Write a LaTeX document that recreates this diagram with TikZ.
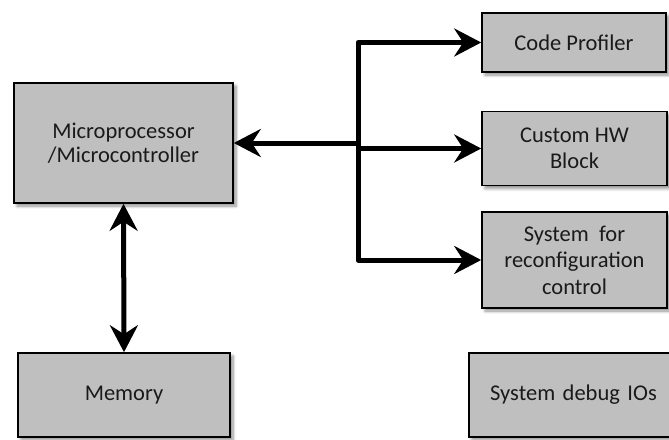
\documentclass[tikz,border=0pt]{standalone}
\usepackage{fontspec}
\setmainfont{Carlito}
\usetikzlibrary{arrows.meta,shadows.blur}
\definecolor{boxgray}{HTML}{BFBFBF}
\definecolor{inktext}{HTML}{1A1A1A}
\tikzset{
  block/.style={draw=black, line width=1.6pt, fill=boxgray, inner sep=0pt,
    align=center, text=inktext, font=\fontsize{22.5}{26.5}\selectfont,
    blur shadow={shadow xshift=3pt, shadow yshift=-3pt, shadow blur steps=6,
      shadow blur radius=3pt, shadow opacity=45}},
  bus/.style={line width=5pt, line join=round},
  busarrow/.style={bus, -{Stealth[length=27pt, width=28pt, inset=9pt]}},
  busboth/.style={bus, {Stealth[length=27pt, width=28pt, inset=9pt]}-{Stealth[length=27pt, width=28pt, inset=9pt]}}
}
\begin{document}
\begin{tikzpicture}[x=1pt, y=-1pt]
  \useasboundingbox (0,0) rectangle (669,439);

  % processing blocks
  \node[block, minimum width=219pt, minimum height=120pt,
        font=\fontsize{22.5}{23.5}\selectfont] (cpu) at (123.5,143)
    {Microprocessor\\/Microcontroller};
  \node[block, minimum width=212pt, minimum height=84pt] (mem) at (124,395) {Memory};
  \node[block, minimum width=184pt, minimum height=59pt] (prof) at (574,42.5) {Code Profiler};
  \node[block, minimum width=185pt, minimum height=74pt] (hw) at (574.5,148.5) {Custom HW\\Block};
  \node[block, minimum width=185pt, minimum height=96pt] (reconf) at (574.5,260)
    {System\ \ for\\reconfiguration\\control};
  \node[block, minimum width=216pt, minimum height=84pt, text width=200pt] (dbg) at (577,395)
    {\hspace*{-7pt}System debug IOs\hfill};

  % shared bus junctions
  \coordinate (jt) at (358,42.5);
  \coordinate (jm) at (358,148.5);
  \coordinate (jl) at (358,143);
  \coordinate (jb) at (358,260);

  % connections
  \draw[busboth] (cpu.south) -- (mem.north);
  \draw[busarrow] (jl) -- (cpu.east);
  \draw[busarrow] (jm) -- (jt) -- (prof.west);
  \draw[busarrow] (jm) -- (hw.west);
  \draw[busarrow] (jm) -- (jb) -- (reconf.west);
\end{tikzpicture}
\end{document}
